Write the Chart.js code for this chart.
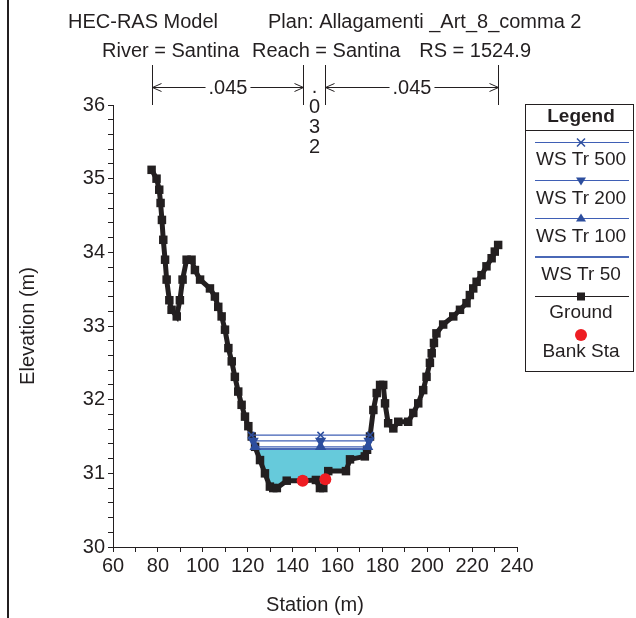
<!DOCTYPE html>
<html>
<head>
<meta charset="utf-8">
<script src="https://cdn.jsdelivr.net/npm/chart.js@4.4.1/dist/chart.umd.min.js"></script>
<style>
  html, body { margin: 0; padding: 0; background: #fff; }
  #wrap { width: 636px; height: 618px; }
</style>
</head>
<body>
<div id="wrap"><canvas id="xsChart" width="636" height="618"></canvas></div>
<script>
// ground profile
const groundSta = [77.2, 79.4, 80.6, 81.2, 81.8, 82.4, 83.2, 83.9, 85.1, 86.1, 88.4, 89.8, 91.0, 92.8, 95.0,
  96.5, 98.8, 103.2, 105.4, 106.9, 108.4, 109.9, 111.4, 112.9, 114.3, 115.8, 117.3, 118.8, 120.3, 121.8,
  123.3, 125.5, 127.7, 129.9, 131.4, 133.0, 137.4, 144.5, 150.4, 152.2, 153.7, 154.6, 155.9, 163.8, 165.6,
  172.2, 173.2, 174.5, 176.0, 177.5, 179.0, 180.4, 181.2, 182.6, 184.9, 187.1, 191.5, 193.8, 196.0, 198.2,
  199.7, 201.2, 202.0, 203.0, 204.1, 207.1, 211.6, 214.6, 217.5, 219.0, 220.5, 222.0, 224.2, 226.4, 228.7,
  230.1, 231.6];
const groundElev = [35.12, 35.0, 34.85, 34.67, 34.44, 34.17, 33.9, 33.63, 33.35, 33.22, 33.13, 33.35, 33.63, 33.9, 33.9,
  33.76, 33.63, 33.51, 33.4, 33.26, 33.13, 32.95, 32.7, 32.52, 32.31, 32.11, 31.93, 31.77, 31.64, 31.5,
  31.36, 31.18, 31.0, 30.82, 30.8, 30.8, 30.9, 30.9, 30.91, 30.8, 30.8, 30.92, 31.03, 31.03, 31.19,
  31.23, 31.32, 31.5, 31.86, 32.09, 32.2, 32.2, 31.95, 31.68, 31.61, 31.7, 31.7, 31.82, 31.95, 32.13,
  32.31, 32.5, 32.63, 32.77, 32.9, 33.02, 33.13, 33.22, 33.31, 33.42, 33.51, 33.6, 33.69, 33.81, 33.92,
  34.01, 34.1];

const bankSta = [144.5, 154.6];
const bankElev = [30.9, 30.92];

const wsNames = ['WS Tr 500', 'WS Tr 200', 'WS Tr 100', 'WS Tr 50'];
const wsElev = [31.52, 31.44, 31.36, 31.33];
const wsMidSta = 152.5;

const nValues = ['.045', '.032', '.045'];
const nBreaks = [77.2, 144.5, 154.6, 231.6];

const titleLine1 = ['HEC-RAS Model', 'Plan: Allagamenti _Art_8_comma 2'];
const titleLine2 = ['River = Santina', 'Reach = Santina', 'RS = 1524.9'];

const FONT = '"Liberation Sans", Arial, sans-serif';
const INK = '#231F20';
const WS_BLUE = '#3F5FB5';
const WS_MARK = '#2D4E9E';

// where a water level meets the ground either side of the thalweg
function wsEdges(level) {
  let lo = 0;
  for (let k = 1; k < groundElev.length; k++) if (groundElev[k] < groundElev[lo]) lo = k;
  let i = lo;
  while (i > 0 && groundElev[i - 1] < level) i--;
  const a = i - 1;
  const left = groundSta[a] + (level - groundElev[a]) / (groundElev[i] - groundElev[a]) * (groundSta[i] - groundSta[a]);
  let j = lo;
  while (j < groundElev.length - 1 && groundElev[j + 1] < level) j++;
  const b = j + 1;
  const right = groundSta[j] + (level - groundElev[j]) / (groundElev[b] - groundElev[j]) * (groundSta[b] - groundSta[j]);
  return { left, right, from: i, to: j };
}

const groundPts = groundSta.map((s, k) => ({ x: s, y: groundElev[k] }));
const bankPts = bankSta.map((s, k) => ({ x: s, y: bankElev[k] }));

const wsStyles = [
  { pointStyle: 'crossRot', rot: 0, r: 4.5 },
  { pointStyle: 'triangle', rot: 180, r: 5 },
  { pointStyle: 'triangle', rot: 0, r: 5 },
  { pointStyle: false, rot: 0, r: 0 }
];

const wsDatasets = wsElev.map((lev, k) => {
  const e = wsEdges(lev);
  const pts = k < 3
    ? [{ x: e.left, y: lev }, { x: wsMidSta, y: lev }, { x: e.right, y: lev }]
    : [{ x: e.left, y: lev }, { x: e.right, y: lev }];
  return {
    label: wsNames[k],
    data: pts,
    borderColor: k < 3 ? WS_BLUE : '#4A68B6',
    borderWidth: k < 3 ? 1.2 : 2,
    pointStyle: wsStyles[k].pointStyle,
    pointRadius: wsStyles[k].r,
    pointRotation: wsStyles[k].rot,
    pointBackgroundColor: WS_MARK,
    pointBorderColor: WS_MARK,
    pointBorderWidth: 1.5,
    fill: false,
    order: 1 + k
  };
});

// lowest profile gets the water fill
const w50 = wsEdges(wsElev[3]);
const waterPts = [{ x: w50.left, y: wsElev[3] }];
for (let k = w50.from; k <= w50.to; k++) waterPts.push({ x: groundSta[k], y: groundElev[k] });
waterPts.push({ x: w50.right, y: wsElev[3] });

const sheetText = {
  id: 'sheetText',
  afterDraw(chart) {
    const c = chart.ctx;
    const xs = chart.scales.x;
    c.save();
    c.fillStyle = INK;
    c.strokeStyle = INK;
    c.font = '20px ' + FONT;
    c.textBaseline = 'alphabetic';
    c.textAlign = 'left';
    c.fillText(titleLine1[0], 68, 28);
    c.fillText(titleLine1[1], 268, 28);
    c.fillText(titleLine2[0], 102, 57);
    c.fillText(titleLine2[1], 252, 57);
    c.textAlign = 'right';
    c.fillText(titleLine2[2], 531, 57);
    c.textAlign = 'left';

    // roughness zones
    const px = nBreaks.map(s => Math.round(xs.getPixelForValue(s)) + 0.5);
    c.lineWidth = 1;
    px.forEach(p => {
      c.beginPath(); c.moveTo(p, 65); c.lineTo(p, 105); c.stroke();
    });
    const ay = 87.5;
    const arrowSpan = (x0, x1, txt) => {
      const mid = (x0 + x1) / 2;
      const tw = c.measureText(txt).width;
      c.beginPath();
      c.moveTo(x0, ay); c.lineTo(mid - tw / 2 - 3, ay);
      c.moveTo(mid + tw / 2 + 3, ay); c.lineTo(x1, ay);
      c.moveTo(x0 + 9, ay - 4); c.lineTo(x0, ay); c.lineTo(x0 + 9, ay + 4);
      c.moveTo(x1 - 9, ay - 4); c.lineTo(x1, ay); c.lineTo(x1 - 9, ay + 4);
      c.stroke();
      c.textAlign = 'center';
      c.textBaseline = 'middle';
      c.fillText(txt, mid, ay + 1);
    };
    arrowSpan(px[0], px[1], nValues[0]);
    arrowSpan(px[2], px[3], nValues[2]);
    c.textAlign = 'center';
    c.textBaseline = 'alphabetic';
    const cx = (px[1] + px[2]) / 2;
    nValues[1].split('').forEach((ch, k) => c.fillText(ch, cx, 93 + k * 20));

    // left frame edge
    c.lineWidth = 2;
    c.beginPath(); c.moveTo(8, 0); c.lineTo(8, 618); c.stroke();

    // legend box
    const L = 525.5, T = 104.5, R = 633.5, B = 371.5, mx = 581;
    c.lineWidth = 1;
    c.strokeRect(L, T, R - L, B - T);
    c.beginPath(); c.moveTo(L, 130.5); c.lineTo(R, 130.5); c.stroke();
    c.font = 'bold 19px ' + FONT;
    c.textBaseline = 'middle';
    c.fillText('Legend', mx, 117);
    c.font = '19px ' + FONT;
    const rows = [142.5, 180.5, 218.5, 257, 296.5];
    rows.forEach((y, k) => {
      c.strokeStyle = k < 4 ? (k < 3 ? WS_BLUE : '#4A68B6') : INK;
      c.lineWidth = k === 3 ? 2 : 1.2;
      c.beginPath(); c.moveTo(535, y); c.lineTo(629, y); c.stroke();
      c.fillStyle = WS_MARK;
      c.strokeStyle = WS_MARK;
      if (k === 0) {
        c.lineWidth = 1.5;
        c.beginPath();
        c.moveTo(mx - 4, y - 4); c.lineTo(mx + 4, y + 4);
        c.moveTo(mx + 4, y - 4); c.lineTo(mx - 4, y + 4);
        c.stroke();
      } else if (k === 1) {
        c.beginPath(); c.moveTo(mx - 5, y - 3); c.lineTo(mx + 5, y - 3); c.lineTo(mx, y + 5); c.closePath(); c.fill();
      } else if (k === 2) {
        c.beginPath(); c.moveTo(mx - 5, y + 3); c.lineTo(mx + 5, y + 3); c.lineTo(mx, y - 5); c.closePath(); c.fill();
      } else if (k === 4) {
        c.fillStyle = INK;
        c.fillRect(mx - 4, y - 4, 8, 8);
      }
    });
    c.fillStyle = '#EE1D23';
    c.beginPath(); c.arc(mx, 335, 6, 0, Math.PI * 2); c.fill();
    c.fillStyle = INK;
    const labels = [wsNames[0], wsNames[1], wsNames[2], wsNames[3], 'Ground', 'Bank Sta'];
    const ly = [160, 198.5, 236.5, 275, 313, 352];
    labels.forEach((t, k) => c.fillText(t, mx, ly[k]));
    c.restore();
  }
};

const tickFont = { family: FONT, size: 20 };

new Chart(document.getElementById('xsChart'), {
  type: 'line',
  data: {
    datasets: [
      {
        label: 'Bank Sta',
        data: bankPts,
        showLine: false,
        pointStyle: 'circle',
        pointRadius: 6,
        pointBackgroundColor: '#EE1D23',
        pointBorderWidth: 0,
        order: 0
      },
      ...wsDatasets,
      {
        label: 'Ground',
        data: groundPts,
        borderColor: INK,
        borderWidth: 5,
        pointStyle: 'rect',
        pointRadius: 6,
        pointBackgroundColor: INK,
        pointBorderWidth: 0,
        fill: false,
        order: 6
      },
      {
        label: 'water',
        data: waterPts,
        borderWidth: 0,
        pointRadius: 0,
        backgroundColor: '#66CADB',
        fill: { value: wsElev[3] },
        order: 10
      }
    ]
  },
  options: {
    responsive: false,
    animation: false,
    layout: { padding: { left: 14, right: 119, top: 105, bottom: 0 } },
    plugins: { legend: { display: false }, tooltip: { enabled: false }, title: { display: false } },
    scales: {
      x: {
        type: 'linear',
        min: 60, max: 240,
        afterFit: (s) => { s.height = 71; },
        border: { display: true, color: INK, width: 1 },
        grid: { drawOnChartArea: false, drawTicks: true, tickLength: 5, color: INK },
        ticks: {
          stepSize: 10, autoSkip: false, maxRotation: 0, maxTicksLimit: 100, padding: 2,
          color: INK, font: tickFont,
          callback: (v) => (Math.round(v) % 20 === 0 ? String(Math.round(v)) : '')
        },
        title: { display: true, text: 'Station (m)', color: INK, font: tickFont, padding: { top: 0, bottom: 1 } }
      },
      y: {
        type: 'linear',
        min: 30, max: 36,
        afterFit: (s) => { s.width = 99; },
        border: { display: true, color: INK, width: 1 },
        grid: { drawOnChartArea: false, drawTicks: true, tickLength: 5, color: INK },
        ticks: {
          stepSize: 0.2, autoSkip: false, maxTicksLimit: 100, padding: 3,
          color: INK, font: tickFont,
          callback: (v) => (Math.abs(v - Math.round(v)) < 1e-6 ? String(Math.round(v)) : '')
        },
        title: { display: true, text: 'Elevation (m)', color: INK, font: tickFont, padding: { top: 2, bottom: 0 } }
      }
    }
  },
  plugins: [sheetText]
});
</script>
</body>
</html>
